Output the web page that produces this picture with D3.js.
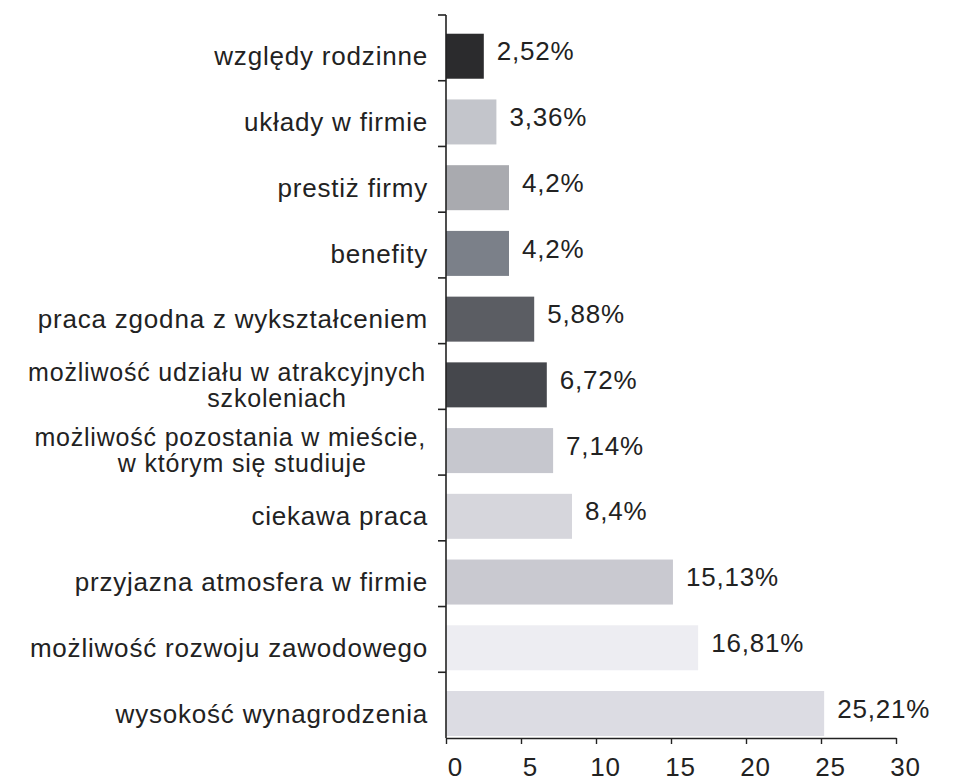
<!DOCTYPE html>
<html>
<head>
<meta charset="utf-8">
<script src="https://cdn.jsdelivr.net/npm/d3@7"></script>
<style>
  body { margin: 0; background: #fff; }
  text { font-family: "Liberation Sans", Arial, sans-serif; fill: #222; }
</style>
</head>
<body>
<svg id="chart" width="954" height="781"></svg>
<script>
// categories from top to bottom
var categories = [
  ['względy rodzinne'],
  ['układy w firmie'],
  ['prestiż firmy'],
  ['benefity'],
  ['praca zgodna z wykształceniem'],
  ['możliwość udziału w atrakcyjnych', 'szkoleniach'],
  ['możliwość pozostania w mieście,', 'w którym się studiuje'],
  ['ciekawa praca'],
  ['przyjazna atmosfera w firmie'],
  ['możliwość rozwoju zawodowego'],
  ['wysokość wynagrodzenia']
];
var values = [2.52, 3.36, 4.2, 4.2, 5.88, 6.72, 7.14, 8.4, 15.13, 16.81, 25.21];
var valueLabels = ['2,52%', '3,36%', '4,2%', '4,2%', '5,88%', '6,72%', '7,14%', '8,4%', '15,13%', '16,81%', '25,21%'];
var barColors = ['#2b2b2d', '#c3c5cb', '#a9aaaf', '#7b8089', '#5b5d63', '#45474c',
                 '#c6c7ce', '#d6d6dc', '#c9c9d0', '#ededf2', '#dcdce3'];
var xTicks = [0, 5, 10, 15, 20, 25, 30];

var svg = d3.select('#chart');
var x0 = 446, x1 = 896, yTop = 15, yBot = 738;
var fontSize = '26px', spacing = '0.8px';

var x = d3.scaleLinear().domain([0, 30]).range([x0, x1]);
var y = d3.scaleBand().domain(d3.range(values.length)).range([yTop, yBot]);
var bw = y.bandwidth();
var barH = 45;
function barMid(i) { return y(i) + bw - barH / 2 - 2; }

svg.append('g').selectAll('rect')
  .data(values)
  .enter().append('rect')
    .attr('x', x(0))
    .attr('y', function(d, i) { return y(i) + bw - barH - 2; })
    .attr('width', function(d) { return x(d) - x(0); })
    .attr('height', barH)
    .attr('fill', function(d, i) { return barColors[i]; });

// value labels
svg.append('g').selectAll('text')
  .data(values)
  .enter().append('text')
    .attr('x', function(d) { return x(d) + 13; })
    .attr('y', function(d, i) { return barMid(i) - 5; })
    .attr('dy', '0.35em')
    .style('font-size', fontSize)
    .style('letter-spacing', spacing)
    .text(function(d, i) { return valueLabels[i]; });

// category labels; wrapped lines are separate texts, second one a bit right of the first's centre
var wrapShift = { 5: 50, 6: 12 };
var catG = svg.append('g');
categories.forEach(function(d, i) {
  var mid = barMid(i);
  if (d.length === 1) {
    catG.append('text')
      .style('font-size', fontSize).style('letter-spacing', spacing)
      .attr('text-anchor', 'end').attr('x', 428).attr('y', mid).attr('dy', '0.35em')
      .text(d[0]);
    return;
  }
  var first = catG.append('text')
    .style('font-size', '25px').style('letter-spacing', spacing)
    .attr('text-anchor', 'end').attr('x', 426).attr('y', mid - 13).attr('dy', '0.35em')
    .text(d[0]);
  var w = first.node().getComputedTextLength();
  catG.append('text')
    .style('font-size', '25px').style('letter-spacing', spacing)
    .attr('text-anchor', 'middle').attr('x', 426 - w / 2 + wrapShift[i])
    .attr('y', mid + 13).attr('dy', '0.35em')
    .text(d[1]);
});

// y axis line and ticks at band edges
var yAxis = svg.append('g').attr('stroke', '#222').attr('stroke-width', 1.6);
yAxis.append('line').attr('x1', x0).attr('x2', x0).attr('y1', yTop).attr('y2', yBot);
yAxis.selectAll('.yt')
  .data(d3.range(values.length))
  .enter().append('line')
    .attr('x1', x0 - 8).attr('x2', x0)
    .attr('y1', function(i) { return y(i); })
    .attr('y2', function(i) { return y(i); });

// x axis
var xAxis = svg.append('g')
  .attr('transform', 'translate(0,' + yBot + ')')
  .call(d3.axisBottom(x).tickValues(xTicks).tickSize(6).tickSizeOuter(0).tickPadding(14));
xAxis.select('.domain').attr('stroke', '#222').attr('stroke-width', 1.6);
xAxis.selectAll('.tick line').attr('stroke', '#222').attr('stroke-width', 1.4);
xAxis.selectAll('.tick text')
  .style('font-size', fontSize)
  .style('letter-spacing', spacing)
  .style('font-family', '"Liberation Sans", Arial, sans-serif')
  .attr('fill', '#222')
  .attr('dx', 9);
</script>
</body>
</html>
